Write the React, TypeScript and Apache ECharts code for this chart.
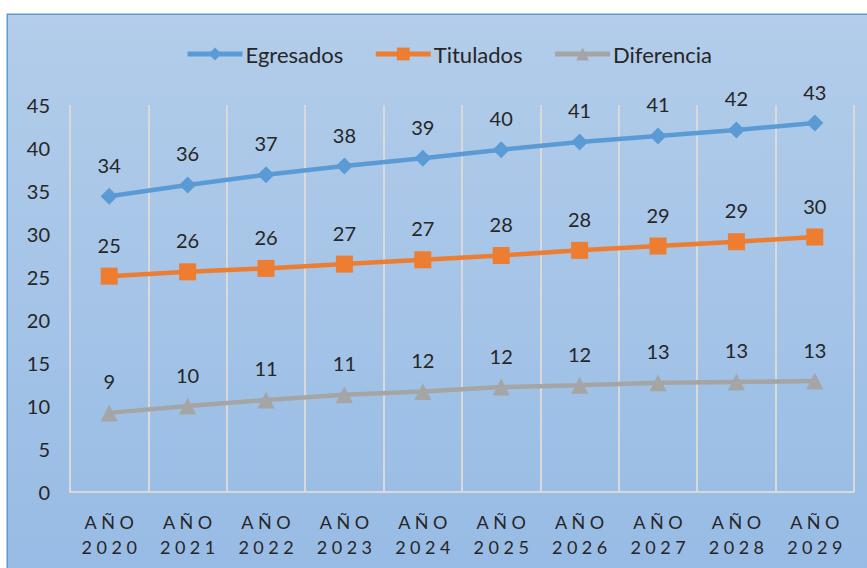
import React, { useEffect, useRef } from "react";
import * as echarts from "echarts";

const years = ["2020", "2021", "2022", "2023", "2024", "2025", "2026", "2027", "2028", "2029"];
const egresados = [34.4, 35.7, 36.9, 37.9, 38.8, 39.8, 40.7, 41.4, 42.1, 42.9];
const titulados = [25.1, 25.6, 26.0, 26.5, 27.0, 27.5, 28.1, 28.6, 29.1, 29.65];
const diferencia = [9.2, 10.0, 10.7, 11.3, 11.7, 12.2, 12.4, 12.7, 12.8, 12.9];
const seriesNames = ["Egresados", "Titulados", "Diferencia"];

const SP = "\u2005";
const spaced = (s: string) => s.split("").join(SP);

export default function App() {
  const ref = useRef<HTMLDivElement>(null);
  useEffect(() => {
    if (!ref.current) return;
    const chart = echarts.init(ref.current, null, { renderer: "svg" });
    const font = "Lato, 'Noto Sans', sans-serif";
    const labelCfg = {
      show: true,
      position: "top",
      distance: 13,
      fontSize: 20,
      fontFamily: font,
      color: "#262626",
      formatter: (p: any) => String(Math.round(p.value)),
    };
    const mk = (name: string, data: number[], color: string, symbol: string, size: number) => ({
      name,
      type: "line",
      data,
      symbol,
      symbolSize: size,
      showSymbol: true,
      lineStyle: { color, width: 4.5 },
      itemStyle: { color },
      label: labelCfg,
      z: 3,
    });
    chart.setOption({
      animation: false,
      graphic: [
        {
          type: "rect",
          left: 6.5,
          top: 13.5,
          shape: { width: 900, height: 600 },
          z: -10,
          silent: true,
          style: {
            fill: new echarts.graphic.LinearGradient(0, 0, 0, 1, [
              { offset: 0, color: "#b3cdea" },
              { offset: 1, color: "#95bae4" },
            ]),
            stroke: "#5b9bd5",
            lineWidth: 1.5,
          },
        },
      ],
      legend: {
        data: seriesNames,
        top: 38,
        left: 180,
        itemWidth: 55,
        itemHeight: 16,
        itemGap: 30,
        lineStyle: { width: 5 },
        textStyle: { fontSize: 22, fontFamily: font, color: "#262626", padding: [0, 0, 0, -2] },
      },
      grid: { left: 70, right: 13, top: 105, bottom: 76, containLabel: false },
      xAxis: {
        type: "category",
        data: years,
        boundaryGap: true,
        axisLine: { show: true, lineStyle: { color: "#d9d9d9", width: 2 } },
        axisTick: { show: false },
        splitLine: { show: true, lineStyle: { color: "#d9d9d9", width: 2 } },
        axisLabel: {
          margin: 17,
          fontSize: 18,
          lineHeight: 25,
          fontFamily: font,
          color: "#262626",
          formatter: (v: string) => spaced("AÑO") + "\n" + spaced(v),
        },
      },
      yAxis: {
        type: "value",
        min: 0,
        max: 45,
        interval: 5,
        axisLine: { show: false },
        axisTick: { show: false },
        splitLine: { show: false },
        axisLabel: { margin: 20, fontSize: 20, fontFamily: font, color: "#262626" },
      },
      series: [
        mk("Egresados", egresados, "#5b9bd5", "diamond", 17),
        mk("Titulados", titulados, "#ed7d31", "rect", 17),
        mk("Diferencia", diferencia, "#a5a5a5", "triangle", 17),
      ],
    });
    return () => chart.dispose();
  }, []);
  return (
    <div
      ref={ref}
      style={{ position: "absolute", left: 0, top: 0, width: 867, height: 568 }}
    />
  );
}
